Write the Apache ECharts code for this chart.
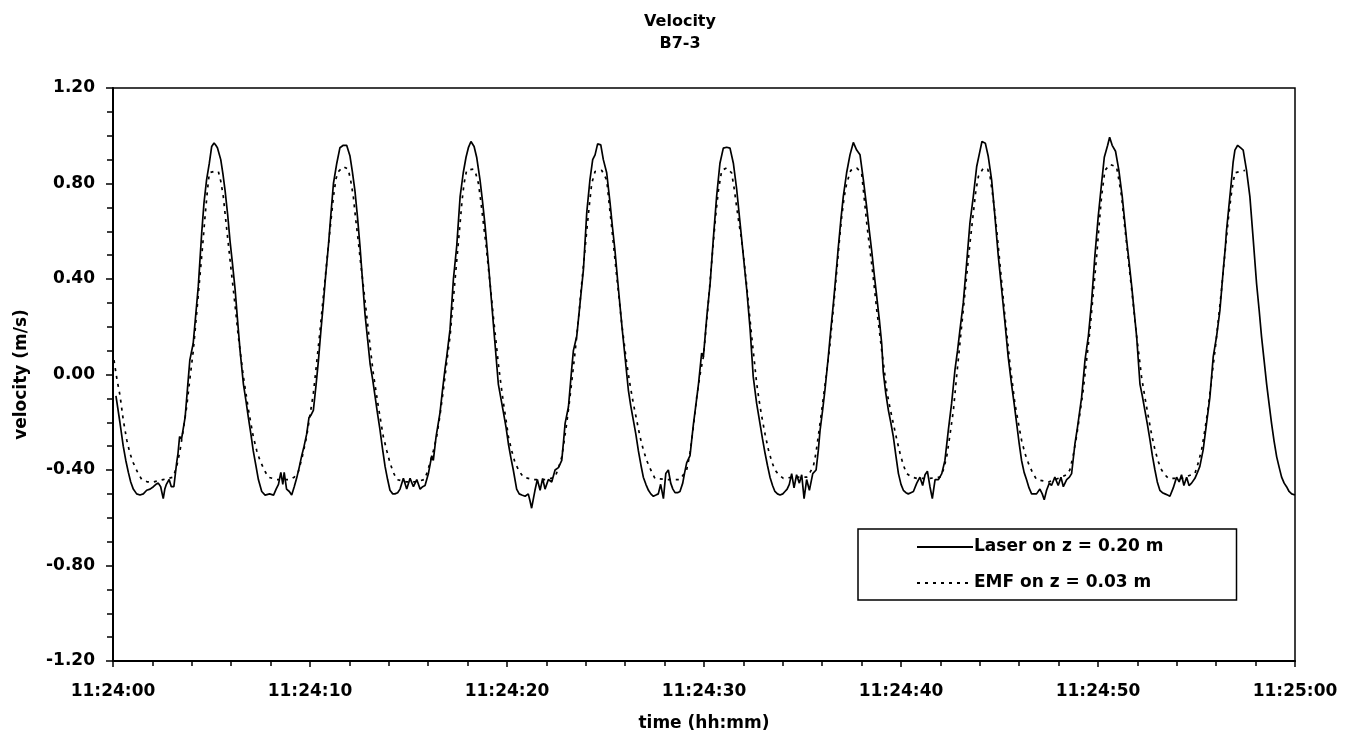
<!DOCTYPE html>
<html>
<head>
<meta charset="utf-8">
<title>Velocity B7-3</title>
<script src="https://cdn.jsdelivr.net/npm/echarts@6/dist/echarts.min.js"></script>
<style>
  html, body { margin: 0; padding: 0; background: #fff; }
  #chart { width: 1356px; height: 745px; }
</style>
</head>
<body>
<div id="chart"></div>
<script>
// Time axis: seconds after 11:24:00; tick labels every 10 s
const timeTicks = [0, 10, 20, 30, 40, 50, 60];
const timeLabels = ['11:24:00', '11:24:10', '11:24:20', '11:24:30', '11:24:40', '11:24:50', '11:25:00'];
const seriesNames = ['Laser on z = 0.20 m', 'EMF on z = 0.03 m'];

// Laser velocity at z = 0.20 m: [seconds, m/s]
const laserSamples = [
  [0.15,-0.09],[0.35,-0.20],[0.52,-0.30],[0.65,-0.36],[0.78,-0.41],[0.90,-0.45],[1.03,-0.48],[1.20,-0.50],[1.37,-0.505],[1.54,-0.50],[1.71,-0.485],[1.88,-0.48],[2.05,-0.47],[2.18,-0.46],[2.30,-0.455],[2.42,-0.47],[2.55,-0.52],[2.63,-0.48],[2.71,-0.46],[2.85,-0.44],[2.96,-0.47],[3.09,-0.47],[3.23,-0.37],[3.30,-0.33],[3.38,-0.26],[3.48,-0.27],[3.66,-0.18],[3.78,-0.06],[3.90,0.06],[4.07,0.13],[4.20,0.25],[4.33,0.37],[4.50,0.59],[4.62,0.72],[4.75,0.815],[4.89,0.885],[5.01,0.955],[5.13,0.97],[5.22,0.96],[5.30,0.95],[5.47,0.90],[5.58,0.84],[5.69,0.77],[5.82,0.67],[5.94,0.56],[6.07,0.46],[6.20,0.355],[6.32,0.23],[6.45,0.10],[6.62,-0.04],[6.75,-0.11],[6.87,-0.18],[7.00,-0.25],[7.12,-0.32],[7.25,-0.38],[7.38,-0.44],[7.55,-0.49],[7.72,-0.505],[7.95,-0.50],
  [8.15,-0.505],[8.28,-0.48],[8.40,-0.46],[8.52,-0.41],[8.62,-0.46],[8.69,-0.41],[8.81,-0.48],[8.95,-0.49],[9.07,-0.505],[9.20,-0.47],[9.32,-0.435],[9.45,-0.39],[9.58,-0.34],[9.70,-0.30],[9.83,-0.25],[9.95,-0.18],[10.05,-0.17],[10.17,-0.15],[10.30,-0.05],[10.43,0.06],[10.55,0.18],[10.68,0.30],[10.80,0.42],[10.93,0.535],[11.06,0.67],[11.19,0.80],[11.36,0.885],[11.52,0.95],[11.69,0.96],[11.86,0.96],[12.03,0.915],[12.15,0.85],[12.28,0.77],[12.41,0.66],[12.54,0.535],[12.66,0.40],[12.79,0.255],[12.92,0.15],[13.05,0.045],[13.18,-0.02],[13.30,-0.09],[13.42,-0.16],[13.55,-0.23],[13.68,-0.31],[13.81,-0.385],[13.94,-0.44],[14.06,-0.485],[14.20,-0.50],[14.31,-0.50],[14.45,-0.495],[14.57,-0.48],
  [14.74,-0.435],[14.91,-0.48],[15.08,-0.435],[15.25,-0.47],[15.42,-0.44],[15.59,-0.48],[15.72,-0.47],[15.84,-0.465],[16.01,-0.415],[16.18,-0.34],[16.26,-0.36],[16.40,-0.26],[16.60,-0.16],[16.72,-0.07],[16.85,0.02],[16.94,0.075],[17.11,0.19],[17.28,0.40],[17.45,0.54],[17.62,0.745],[17.78,0.845],[17.92,0.91],[18.04,0.95],[18.17,0.976],[18.33,0.955],[18.46,0.91],[18.63,0.815],[18.75,0.73],[18.88,0.63],[19.05,0.47],[19.22,0.30],[19.39,0.13],[19.56,-0.04],[19.69,-0.10],[19.82,-0.16],[19.95,-0.22],[20.07,-0.29],[20.20,-0.35],[20.32,-0.40],[20.49,-0.48],[20.62,-0.50],[20.75,-0.505],[20.92,-0.51],
  [21.08,-0.50],[21.17,-0.53],[21.25,-0.56],[21.34,-0.52],[21.42,-0.485],[21.54,-0.44],[21.68,-0.485],[21.81,-0.435],[21.93,-0.48],[22.10,-0.44],[22.27,-0.45],[22.44,-0.40],[22.61,-0.39],[22.78,-0.36],[22.87,-0.28],[22.95,-0.205],[23.12,-0.135],[23.28,0.02],[23.37,0.10],[23.54,0.16],[23.71,0.30],[23.88,0.44],[24.05,0.68],[24.21,0.815],[24.35,0.90],[24.47,0.92],[24.60,0.966],[24.76,0.962],[24.89,0.90],[25.06,0.845],[25.23,0.72],[25.35,0.62],[25.48,0.52],[25.61,0.40],[25.74,0.285],[25.86,0.18],[25.99,0.075],[26.16,-0.065],[26.28,-0.13],[26.41,-0.19],[26.54,-0.25],[26.67,-0.32],[26.80,-0.38],[26.92,-0.43],[27.05,-0.46],[27.18,-0.485],[27.30,-0.50],[27.43,-0.51],[27.56,-0.505],[27.68,-0.50],
  [27.80,-0.46],[27.94,-0.52],[28.06,-0.415],[28.19,-0.40],[28.31,-0.455],[28.42,-0.48],[28.53,-0.495],[28.66,-0.495],[28.78,-0.49],[28.92,-0.455],[29.02,-0.41],[29.12,-0.37],[29.29,-0.34],[29.46,-0.21],[29.60,-0.12],[29.72,-0.04],[29.88,0.09],[29.97,0.075],[30.14,0.24],[30.31,0.38],[30.47,0.565],[30.64,0.745],[30.81,0.885],[30.98,0.948],[31.15,0.952],[31.32,0.948],[31.49,0.885],[31.66,0.775],[31.83,0.635],[32.00,0.495],[32.17,0.355],[32.34,0.19],[32.50,-0.01],[32.67,-0.12],[32.84,-0.205],[32.97,-0.27],[33.10,-0.33],[33.22,-0.38],[33.35,-0.43],[33.48,-0.465],[33.60,-0.49],[33.73,-0.50],[33.86,-0.505],[34.00,-0.50],
  [34.11,-0.49],[34.22,-0.48],[34.33,-0.46],[34.45,-0.415],[34.57,-0.475],[34.70,-0.42],[34.84,-0.455],[34.96,-0.42],[35.08,-0.52],[35.21,-0.44],[35.35,-0.485],[35.52,-0.415],[35.69,-0.40],[35.80,-0.32],[35.89,-0.235],[36.02,-0.15],[36.14,-0.065],[36.31,0.075],[36.44,0.19],[36.57,0.30],[36.70,0.42],[36.82,0.535],[36.95,0.65],[37.07,0.745],[37.24,0.845],[37.41,0.92],[37.58,0.972],[37.75,0.94],[37.92,0.92],[38.09,0.815],[38.26,0.70],[38.38,0.61],[38.51,0.52],[38.64,0.42],[38.77,0.325],[38.90,0.23],[39.02,0.13],[39.10,0.01],[39.23,-0.08],[39.36,-0.15],[39.48,-0.20],[39.61,-0.26],[39.74,-0.34],[39.87,-0.415],[40.00,-0.46],[40.12,-0.485],[40.25,-0.495],[40.37,-0.50],[40.50,-0.495],
  [40.63,-0.49],[40.80,-0.455],[40.96,-0.43],[41.10,-0.465],[41.22,-0.42],[41.34,-0.405],[41.47,-0.47],[41.59,-0.52],[41.73,-0.44],[41.90,-0.44],[42.07,-0.415],[42.23,-0.36],[42.40,-0.235],[42.57,-0.12],[42.74,0.02],[42.87,0.10],[42.99,0.185],[43.16,0.30],[43.33,0.465],[43.50,0.635],[43.67,0.745],[43.84,0.87],[43.98,0.925],[44.11,0.976],[44.20,0.975],[44.28,0.969],[44.43,0.913],[44.60,0.815],[44.77,0.66],[44.94,0.495],[45.11,0.355],[45.28,0.215],[45.44,0.075],[45.61,-0.04],[45.74,-0.12],[45.87,-0.205],[46.00,-0.29],[46.12,-0.36],[46.25,-0.41],[46.37,-0.44],[46.50,-0.475],[46.63,-0.50],[46.75,-0.50],[46.88,-0.50],
  [47.05,-0.48],[47.17,-0.50],[47.27,-0.525],[47.39,-0.485],[47.53,-0.455],[47.64,-0.465],[47.81,-0.43],[47.98,-0.465],[48.12,-0.43],[48.24,-0.47],[48.41,-0.44],[48.55,-0.43],[48.66,-0.415],[48.83,-0.29],[48.96,-0.22],[49.17,-0.095],[49.34,0.06],[49.51,0.16],[49.67,0.30],[49.84,0.495],[50.01,0.66],[50.18,0.80],[50.32,0.91],[50.49,0.96],[50.59,0.994],[50.72,0.96],[50.89,0.935],[51.06,0.855],[51.23,0.745],[51.45,0.565],[51.58,0.47],[51.71,0.37],[51.84,0.26],[51.96,0.16],[52.13,-0.04],[52.25,-0.09],[52.38,-0.15],[52.51,-0.21],[52.64,-0.275],[52.76,-0.34],[52.89,-0.40],[53.01,-0.45],[53.14,-0.485],[53.27,-0.495],[53.40,-0.50],[53.53,-0.505],[53.65,-0.51],
  [53.82,-0.475],[53.99,-0.43],[54.12,-0.45],[54.24,-0.42],[54.36,-0.465],[54.50,-0.43],[54.62,-0.465],[54.75,-0.455],[54.92,-0.435],[55.05,-0.41],[55.17,-0.385],[55.34,-0.315],[55.51,-0.205],[55.68,-0.095],[55.85,0.075],[56.02,0.16],[56.19,0.27],[56.36,0.44],[56.46,0.53],[56.52,0.60],[56.64,0.70],[56.76,0.80],[56.86,0.89],[56.95,0.94],[57.09,0.96],[57.26,0.948],[57.37,0.94],[57.54,0.855],[57.71,0.745],[57.88,0.565],[58.05,0.38],[58.18,0.27],[58.30,0.16],[58.43,0.06],[58.56,-0.04],[58.68,-0.12],[58.81,-0.205],[58.94,-0.28],[59.07,-0.345],[59.20,-0.39],[59.32,-0.43],[59.45,-0.455],[59.57,-0.47],[59.70,-0.49],[59.83,-0.50],[60.00,-0.505]
];

// EMF velocity at z = 0.03 m: [seconds, m/s]
const emfSamples = [
  [0.05,0.06],[0.20,-0.02],[0.36,-0.09],[0.52,-0.19],[0.70,-0.275],[0.86,-0.33],[1.03,-0.37],[1.25,-0.41],[1.46,-0.44],[1.75,-0.45],[2.05,-0.45],[2.55,-0.44],[3.05,-0.43],[3.22,-0.39],[3.40,-0.32],[3.57,-0.23],[3.74,-0.135],[3.90,-0.02],[4.07,0.095],[4.24,0.25],[4.41,0.41],[4.55,0.54],[4.67,0.66],[4.78,0.76],[4.89,0.845],[5.10,0.85],[5.35,0.85],[5.47,0.81],[5.60,0.745],[5.72,0.65],[5.85,0.55],[5.98,0.45],[6.11,0.355],[6.24,0.255],[6.36,0.16],[6.49,0.075],[6.62,-0.01],[6.75,-0.08],[6.87,-0.145],[7.00,-0.205],[7.12,-0.26],[7.30,-0.32],[7.46,-0.36],[7.68,-0.40],[7.88,-0.43],[8.30,-0.44],[8.98,-0.44],
  [9.20,-0.43],[9.40,-0.41],[9.62,-0.34],[9.83,-0.26],[10.00,-0.17],[10.17,-0.08],[10.34,0.05],[10.51,0.185],[10.68,0.33],[10.85,0.47],[11.02,0.61],[11.19,0.745],[11.32,0.82],[11.44,0.85],[11.69,0.87],[11.94,0.86],[12.07,0.81],[12.20,0.745],[12.32,0.65],[12.45,0.56],[12.58,0.46],[12.71,0.37],[12.84,0.275],[12.96,0.185],[13.09,0.09],[13.22,0.0],[13.35,-0.07],[13.47,-0.135],[13.60,-0.20],[13.72,-0.26],[13.90,-0.32],[14.06,-0.37],[14.23,-0.41],[14.40,-0.44],[14.90,-0.45],[15.40,-0.45],[15.80,-0.44],
  [15.95,-0.41],[16.09,-0.37],[16.26,-0.32],[16.43,-0.26],[16.60,-0.17],[16.77,-0.065],[16.94,0.05],[17.11,0.16],[17.24,0.28],[17.36,0.395],[17.49,0.515],[17.62,0.635],[17.72,0.73],[17.82,0.80],[17.95,0.855],[18.29,0.86],[18.42,0.84],[18.55,0.80],[18.68,0.72],[18.80,0.635],[18.93,0.545],[19.05,0.45],[19.18,0.35],[19.31,0.24],[19.44,0.14],[19.56,0.045],[19.69,-0.04],[19.82,-0.12],[19.95,-0.19],[20.07,-0.26],[20.24,-0.32],[20.41,-0.37],[20.62,-0.405],[20.83,-0.43],[21.34,-0.44],[22.01,-0.44],
  [22.44,-0.43],[22.62,-0.39],[22.78,-0.345],[22.90,-0.28],[23.03,-0.205],[23.16,-0.12],[23.28,-0.035],[23.41,0.06],[23.54,0.16],[23.67,0.27],[23.79,0.38],[23.92,0.49],[24.05,0.605],[24.18,0.71],[24.30,0.80],[24.47,0.85],[24.81,0.855],[25.06,0.815],[25.18,0.72],[25.31,0.62],[25.44,0.515],[25.57,0.41],[25.70,0.31],[25.82,0.215],[25.95,0.13],[26.08,0.045],[26.24,-0.04],[26.41,-0.12],[26.58,-0.19],[26.75,-0.26],[26.92,-0.315],[27.09,-0.36],[27.30,-0.40],[27.51,-0.435],[28.10,-0.44],[28.78,-0.44],
  [28.95,-0.42],[29.12,-0.40],[29.29,-0.33],[29.46,-0.22],[29.63,-0.095],[29.80,0.0],[29.97,0.075],[30.10,0.19],[30.22,0.30],[30.35,0.43],[30.47,0.55],[30.60,0.67],[30.73,0.77],[30.90,0.855],[31.15,0.865],[31.40,0.845],[31.53,0.78],[31.66,0.70],[31.78,0.63],[31.91,0.565],[32.04,0.47],[32.17,0.37],[32.30,0.26],[32.42,0.16],[32.55,0.06],[32.67,-0.035],[32.80,-0.11],[32.93,-0.175],[33.10,-0.25],[33.27,-0.315],[33.44,-0.365],[33.60,-0.40],[33.80,-0.42],[34.03,-0.435],[34.54,-0.43],[35.21,-0.43],
  [35.38,-0.41],[35.55,-0.385],[35.68,-0.33],[35.80,-0.26],[35.93,-0.18],[36.06,-0.095],[36.23,0.01],[36.40,0.13],[36.57,0.28],[36.73,0.425],[36.86,0.55],[36.99,0.66],[37.11,0.74],[37.24,0.80],[37.45,0.855],[37.75,0.865],[38.00,0.845],[38.13,0.74],[38.26,0.635],[38.38,0.55],[38.51,0.465],[38.64,0.37],[38.77,0.27],[38.90,0.185],[39.02,0.10],[39.15,0.02],[39.27,-0.065],[39.44,-0.14],[39.61,-0.205],[39.78,-0.27],[39.95,-0.33],[40.12,-0.38],[40.29,-0.415],[40.55,-0.43],[40.80,-0.435],[41.47,-0.435],[41.98,-0.43],
  [42.15,-0.40],[42.32,-0.345],[42.49,-0.25],[42.66,-0.15],[42.82,-0.01],[42.99,0.13],[43.16,0.27],[43.33,0.41],[43.50,0.55],[43.67,0.675],[43.80,0.77],[43.93,0.83],[44.18,0.865],[44.40,0.86],[44.52,0.83],[44.64,0.76],[44.77,0.675],[44.90,0.57],[45.02,0.465],[45.15,0.355],[45.28,0.24],[45.41,0.14],[45.53,0.045],[45.66,-0.04],[45.78,-0.12],[45.95,-0.20],[46.12,-0.275],[46.29,-0.33],[46.46,-0.37],[46.67,-0.41],[46.88,-0.44],[47.48,-0.45],[48.15,-0.43],
  [48.40,-0.42],[48.57,-0.40],[48.74,-0.34],[48.91,-0.26],[49.08,-0.165],[49.25,-0.065],[49.42,0.06],[49.59,0.185],[49.76,0.34],[49.93,0.495],[50.06,0.63],[50.18,0.745],[50.35,0.855],[50.61,0.88],[50.94,0.87],[51.07,0.81],[51.20,0.745],[51.32,0.645],[51.45,0.55],[51.58,0.45],[51.71,0.355],[51.84,0.255],[51.96,0.16],[52.09,0.075],[52.21,-0.01],[52.38,-0.095],[52.55,-0.175],[52.72,-0.25],[52.89,-0.315],[53.06,-0.365],[53.23,-0.40],[53.40,-0.42],[53.57,-0.435],[54.24,-0.435],[54.92,-0.415],
  [55.09,-0.37],[55.26,-0.315],[55.43,-0.23],[55.60,-0.135],[55.77,-0.015],[55.94,0.10],[56.11,0.23],[56.27,0.355],[56.40,0.47],[56.53,0.58],[56.64,0.67],[56.75,0.745],[56.85,0.80],[56.95,0.845],[57.20,0.85],[57.46,0.855]
];

const FONT = 'DejaVu Sans';
const chart = echarts.init(document.getElementById('chart'), null, { renderer: 'canvas' });

chart.setOption({
  backgroundColor: '#ffffff',
  animation: false,
  title: {
    text: 'Velocity\nB7-3',
    left: 675,
    top: 6,
    textAlign: 'center',
    textStyle: { fontFamily: FONT, fontWeight: 'bold', fontSize: 16, lineHeight: 22, color: '#000' }
  },
  legend: {
    data: seriesNames,
    orient: 'vertical',
    left: 858,
    top: 529,
    backgroundColor: '#ffffff',
    borderColor: '#000',
    borderWidth: 1.5,
    borderRadius: 0,
    padding: [8, 73, 7, 58],
    itemWidth: 56,
    itemHeight: 14,
    itemGap: 16,
    itemStyle: { opacity: 0 },
    textStyle: { fontFamily: FONT, fontWeight: 'bold', fontSize: 17, lineHeight: 20, color: '#000', padding: [0, 0, 0, -4] },
    selectedMode: false
  },
  grid: {
    left: 113, right: 61, top: 88, bottom: 84,
    show: true, borderColor: '#000', borderWidth: 1.5, backgroundColor: 'transparent'
  },
  xAxis: {
    type: 'value',
    min: timeTicks[0],
    max: timeTicks[timeTicks.length - 1],
    interval: 10,
    name: 'time (hh:mm)',
    nameLocation: 'middle',
    nameGap: 54,
    nameTextStyle: { fontFamily: FONT, fontWeight: 'bold', fontSize: 17, color: '#000' },
    axisLine: { show: true, onZero: false, lineStyle: { color: '#000', width: 2 } },
    axisTick: { show: true, length: 6, lineStyle: { color: '#000', width: 1.5 } },
    minorTick: { show: true, splitNumber: 5, length: 5, lineStyle: { color: '#000', width: 1.5 } },
    splitLine: { show: false },
    axisLabel: {
      margin: 22,
      fontFamily: FONT, fontWeight: 'bold', fontSize: 17, color: '#000',
      formatter: v => timeLabels[timeTicks.indexOf(Math.round(v))] || ''
    }
  },
  yAxis: {
    type: 'value',
    min: -1.2,
    max: 1.2,
    interval: 0.4,
    name: 'velocity (m/s)',
    nameLocation: 'middle',
    nameGap: 83,
    nameTextStyle: { fontFamily: FONT, fontWeight: 'bold', fontSize: 17, color: '#000' },
    axisLine: { show: true, onZero: false, lineStyle: { color: '#000', width: 2 } },
    axisTick: { show: true, length: 7, lineStyle: { color: '#000', width: 1.5 } },
    minorTick: { show: true, splitNumber: 4, length: 6, lineStyle: { color: '#000', width: 1.5 } },
    splitLine: { show: false },
    axisLabel: {
      margin: 18,
      fontFamily: FONT, fontWeight: 'bold', fontSize: 17, color: '#000',
      formatter: v => v.toFixed(2)
    }
  },
  series: [
    {
      name: seriesNames[0],
      type: 'line',
      data: laserSamples,
      symbol: 'none',
      smooth: false,
      lineStyle: { color: '#000', width: 1.7, type: 'solid' },
      itemStyle: { color: '#000' },
      z: 3
    },
    {
      name: seriesNames[1],
      type: 'line',
      data: emfSamples,
      symbol: 'none',
      smooth: false,
      lineStyle: { color: '#000', width: 1.7, type: [3, 5] },
      itemStyle: { color: '#000' },
      z: 2
    }
  ]
});
</script>
</body>
</html>
